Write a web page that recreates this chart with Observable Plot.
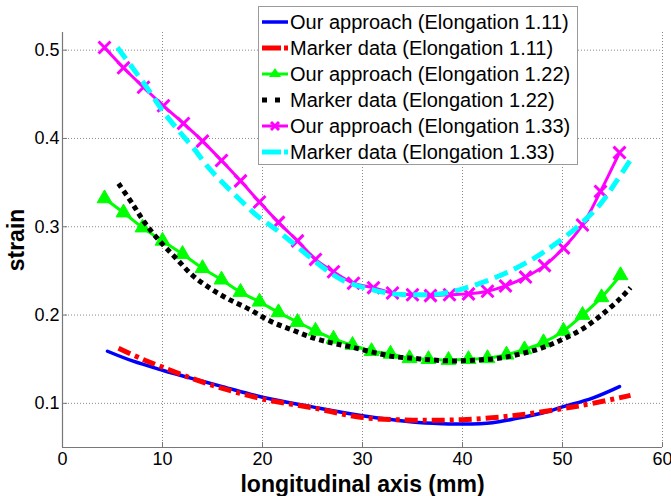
<!DOCTYPE html>
<html>
<head>
<meta charset="utf-8">
<script src="https://cdn.jsdelivr.net/npm/d3@7"></script>
<script src="https://cdn.jsdelivr.net/npm/@observablehq/plot@0.6"></script>
<style>
  html, body { margin: 0; padding: 0; background: #fff; }
  #wrap { position: relative; width: 671px; height: 496px; font-family: "Liberation Sans", Arial, sans-serif; }
  #legend { position: absolute; left: 258px; top: 6px; width: 318px; height: 157px; background: #fff; border: 1px solid #9a9a9a; }
  .item { position: absolute; left: 3px; height: 26px; display: flex; align-items: center; font-size: 20px; color: #000; white-space: nowrap; }
  .item svg { margin-right: 2px; }
  g[aria-label="x-axis tick label"], g[aria-label="y-axis tick label"] { font-size: 18px; }
</style>
</head>
<body>
<div id="wrap"></div>
<script>
// ---- data ----
const xTicks = [0, 10, 20, 30, 40, 50, 60];
const yTicks = [0.1, 0.2, 0.3, 0.4, 0.5];
const xDomain = [0, 60];
const yDomain = [0.05, 0.52];
const xLabel = "longitudinal axis (mm)";
const yLabel = "strain";

const seriesNames = [
  "Our approach (Elongation 1.11)",
  "Marker data (Elongation 1.11)",
  "Our approach (Elongation 1.22)",
  "Marker data (Elongation 1.22)",
  "Our approach (Elongation 1.33)",
  "Marker data (Elongation 1.33)"
];

const our111X = [4.5, 7, 10, 13, 16, 20, 25, 30, 35, 38, 40, 43, 45, 48, 50, 53, 55.7];
const our111Y = [0.159, 0.148, 0.1375, 0.128, 0.119, 0.107, 0.096, 0.086, 0.079, 0.077, 0.0765, 0.078, 0.082, 0.089, 0.096, 0.106, 0.119];

const mk111X = [5.6, 8, 10, 13, 16, 20, 25, 30, 35, 40, 45, 50, 53, 56.8];
const mk111Y = [0.1625, 0.150, 0.141, 0.128, 0.117, 0.105, 0.095, 0.084, 0.081, 0.0815, 0.086, 0.094, 0.100, 0.109];

const our122X = [4.2, 6.1, 8.0, 10.0, 12.0, 14.0, 15.9, 17.8, 19.7, 21.6, 23.5, 25.3, 27.1, 29.0, 30.9, 32.8, 34.7, 36.6, 38.6, 40.6, 42.5, 44.4, 46.2, 48.1, 50.1, 52.0, 53.9, 55.8];
const our122Y = [0.332, 0.316, 0.299, 0.284, 0.269, 0.253, 0.240, 0.226, 0.215, 0.203, 0.192, 0.182, 0.173, 0.166, 0.159, 0.156, 0.151, 0.150, 0.149, 0.150, 0.151, 0.155, 0.161, 0.169, 0.182, 0.200, 0.220, 0.245];

const mk122X = [5.6, 7, 8.2, 9.7, 11.3, 13, 14.8, 16.6, 18.6, 20.8, 23, 25.1, 27.1, 28.8, 31, 33.1, 35.1, 37.1, 39.1, 41.3, 43.6, 45.8, 48, 50.1, 52.1, 54, 55.8, 56.8];
const mk122Y = [0.349, 0.326, 0.305, 0.284, 0.265, 0.245, 0.230, 0.218, 0.207, 0.193, 0.183, 0.174, 0.168, 0.164, 0.158, 0.153, 0.151, 0.149, 0.148, 0.149, 0.151, 0.156, 0.163, 0.173, 0.185, 0.201, 0.219, 0.231];

const our133X = [4.2, 6.1, 8.1, 10.1, 12.1, 14.0, 15.9, 17.8, 19.7, 21.6, 23.5, 25.3, 27.1, 29.1, 31.1, 33.0, 35.0, 36.8, 38.7, 40.6, 42.5, 44.3, 46.3, 48.2, 50.1, 52.0, 53.8, 55.7];
const our133Y = [0.503, 0.480, 0.458, 0.437, 0.417, 0.397, 0.375, 0.352, 0.328, 0.305, 0.284, 0.263, 0.249, 0.236, 0.231, 0.225, 0.223, 0.222, 0.223, 0.224, 0.227, 0.233, 0.243, 0.256, 0.276, 0.302, 0.340, 0.384];

const mk133X = [5.5, 7, 8.6, 10.1, 11.6, 13.1, 14.6, 16.1, 17.8, 19.5, 21.1, 23.1, 24.8, 26.5, 28.1, 30.5, 33.1, 35.5, 37.8, 40.1, 42.5, 44.8, 47.1, 49.1, 51.5, 53.8, 55.3, 57.1];
const mk133Y = [0.503, 0.480, 0.455, 0.430, 0.409, 0.389, 0.367, 0.349, 0.330, 0.312, 0.299, 0.281, 0.265, 0.250, 0.239, 0.230, 0.224, 0.223, 0.224, 0.230, 0.239, 0.250, 0.264, 0.279, 0.300, 0.326, 0.350, 0.381];

// ---- styles ----
const styles = [
  {stroke: "#0000ff", strokeWidth: 3.5, dash: null, symbol: null},
  {stroke: "#ff0000", strokeWidth: 5, dash: "13,5,4,5", symbol: null},
  {stroke: "#00ff00", strokeWidth: 3, dash: null, symbol: "triangle"},
  {stroke: "#000000", strokeWidth: 5, dash: "5,4", symbol: null},
  {stroke: "#ff00ff", strokeWidth: 3, dash: null, symbol: "times"},
  {stroke: "#00ffff", strokeWidth: 5, dash: "14,7", symbol: null}
];

const toRows = (xs, ys) => xs.map((x, i) => ({x, y: ys[i]}));
const series = [
  toRows(our111X, our111Y),
  toRows(mk111X, mk111Y),
  toRows(our122X, our122Y),
  toRows(mk122X, mk122Y),
  toRows(our133X, our133Y),
  toRows(mk133X, mk133Y)
];

const fmt = d => String(d);

const marks = [
  Plot.gridX(xTicks, {stroke: "#8a8a8a", strokeOpacity: 1, strokeWidth: 1, strokeDasharray: "1,2"}),
  Plot.gridY(yTicks, {stroke: "#8a8a8a", strokeOpacity: 1, strokeWidth: 1, strokeDasharray: "1,2"}),
  Plot.axisX(xTicks, {tickSize: 0, tickPadding: 5, label: null, fontSize: 18, tickFormat: fmt}),
  Plot.axisY(yTicks, {tickSize: 0, tickPadding: 3, label: null, fontSize: 18, tickFormat: fmt}),
  Plot.axisX(xTicks, {tickSize: -5, stroke: "#777", label: null, tickFormat: () => ""}),
  Plot.axisY(yTicks, {tickSize: -5, stroke: "#777", label: null, tickFormat: () => ""}),
  Plot.ruleX([xDomain[0]], {stroke: "#777", strokeWidth: 1.2}),
  Plot.ruleY([yDomain[0]], {stroke: "#777", strokeWidth: 1.2}),
];

series.forEach((rows, i) => {
  const s = styles[i];
  marks.push(Plot.line(rows, {
    x: "x", y: "y", stroke: s.stroke, strokeWidth: s.strokeWidth,
    strokeDasharray: s.dash, curve: "catmull-rom", strokeLinecap: s.dash ? "butt" : "round"
  }));
  if (s.symbol === "triangle") {
    marks.push(Plot.dot(rows, {x: "x", y: "y", symbol: "triangle", r: 5.5, fill: s.stroke, stroke: s.stroke, strokeWidth: 1}));
  } else if (s.symbol === "times") {
    marks.push(Plot.dot(rows, {x: "x", y: "y", symbol: "times", r: 5.5, stroke: s.stroke, strokeWidth: 3}));
  }
});

marks.push(Plot.text([yLabel], {frameAnchor: "left", textAnchor: "middle", lineAnchor: "middle", rotate: -90, dx: -46, fontSize: 23, fontWeight: "bold", fill: "#000"}));
marks.push(Plot.text([xLabel], {frameAnchor: "bottom", textAnchor: "middle", lineAnchor: "middle", dy: 37, fontSize: 23, fontWeight: "bold", fill: "#000"}));

const chart = Plot.plot({
  width: 671, height: 496,
  marginLeft: 62, marginRight: 9, marginTop: 32, marginBottom: 49,
  style: {fontFamily: "'Liberation Sans', Arial, sans-serif", background: "#fff", color: "#000", overflow: "visible"},
  x: {domain: xDomain},
  y: {domain: yDomain},
  marks
});

const wrap = document.getElementById("wrap");
wrap.appendChild(chart);

// ---- legend ----
const legend = document.createElement("div");
legend.id = "legend";
const ns = "http://www.w3.org/2000/svg";
seriesNames.forEach((name, i) => {
  const s = styles[i];
  const item = document.createElement("div");
  item.className = "item";
  item.style.top = (2 + i * 26) + "px";
  const svg = document.createElementNS(ns, "svg");
  svg.setAttribute("width", 26); svg.setAttribute("height", 16);
  const ln = document.createElementNS(ns, "line");
  ln.setAttribute("x1", 0); ln.setAttribute("x2", 26); ln.setAttribute("y1", 8); ln.setAttribute("y2", 8);
  ln.setAttribute("stroke", s.stroke); ln.setAttribute("stroke-width", s.strokeWidth);
  if (i === 1 || i === 5) ln.setAttribute("stroke-dasharray", "19,3,4,3");
  if (i === 3) ln.setAttribute("stroke-dasharray", "5,8");
  svg.appendChild(ln);
  if (s.symbol === "triangle") {
    const p = document.createElementNS(ns, "path");
    p.setAttribute("d", "M13,2 L19,11 L7,11 Z");
    p.setAttribute("fill", s.stroke);
    svg.appendChild(p);
  } else if (s.symbol === "times") {
    const p = document.createElementNS(ns, "path");
    p.setAttribute("d", "M9,4 L17,12 M17,4 L9,12");
    p.setAttribute("stroke", s.stroke); p.setAttribute("stroke-width", 3);
    svg.appendChild(p);
  }
  item.appendChild(svg);
  const t = document.createElement("span");
  t.textContent = name;
  item.appendChild(t);
  legend.appendChild(item);
});
wrap.appendChild(legend);
</script>
</body>
</html>
